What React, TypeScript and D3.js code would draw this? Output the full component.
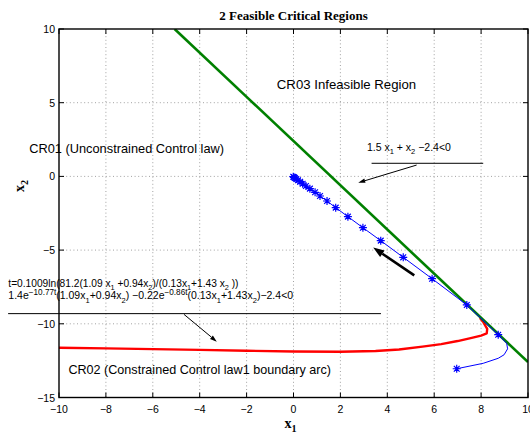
import React, { useEffect, useRef } from "react";
import * as d3 from "d3";

const xTicks = [-10, -8, -6, -4, -2, 0, 2, 4, 6, 8, 10];
const yTicks = [-15, -10, -5, 0, 5, 10];

// infeasible boundary 1.5 x1 + x2 - 2.4 = 0
const boundX = [-5.07, 10];
const boundY = [10, -12.6];

// CR02 boundary arc (red)
const arcX = [-10, -8, -6, -4, -2, 0, 2, 3.5, 4.5, 5.5, 6.3, 7.0, 7.6, 8.0, 8.24, 8.26, 8.1, 7.95];
const arcY = [-11.62, -11.67, -11.72, -11.77, -11.83, -11.88, -11.9, -11.85, -11.74, -11.55, -11.38, -11.17, -10.95, -10.8, -10.65, -10.35, -9.9, -9.6];

// state trajectory (blue line)
const trajX = [6.96, 8.09, 8.73, 8.98, 9.13, 9.09, 8.73, 7.39, 5.91, 4.68, 3.72, 2.96, 2.32, 1.8, 1.43, 1.13, 0.92, 0.7, 0.53, 0.39, 0.28, 0.19, 0.12, 0.06, 0.02, -0.01];
const trajY = [-13.05, -12.68, -12.34, -12.1, -11.7, -11.32, -10.74, -8.72, -6.94, -5.49, -4.36, -3.48, -2.73, -2.12, -1.67, -1.33, -1.08, -0.83, -0.65, -0.5, -0.36, -0.26, -0.18, -0.11, -0.06, -0.02];

// sampled states (stars)
const starX = [6.96, 8.73, 7.39, 5.91, 4.68, 3.72, 2.96, 2.32, 1.8, 1.43, 1.13, 0.92, 0.7, 0.53, 0.39, 0.28, 0.19, 0.12, 0.06, 0.02, -0.01];
const starY = [-13.05, -10.74, -8.72, -6.94, -5.49, -4.36, -3.48, -2.73, -2.12, -1.67, -1.33, -1.08, -0.83, -0.65, -0.5, -0.36, -0.26, -0.18, -0.11, -0.06, -0.02];

type Seg = [string, string];

const cr03Label: Seg[] = [["CR03 Infeasible Region", ""]];
const cr01Label: Seg[] = [["CR01 (Unconstrained Control law)", ""]];
const cr02Label: Seg[] = [["CR02 (Constrained Control law1 boundary arc)", ""]];
const ineqLabel: Seg[] = [["1.5 x", ""], ["1", "sub"], [" + x", ""], ["2", "sub"], [" \u22122.4<0", ""]];
const formula1: Seg[] = [["t=0.1009ln(81.2(1.09 x", ""], ["1", "sub"], [" +0.94x", ""], ["2", "sub"], [")/(0.13x", ""], ["1", "sub"], ["+1.43 x", ""], ["2", "sub"], [" ))", ""]];
const formula2: Seg[] = [["1.4e", ""], ["\u221210.77t", "sup"], ["(1.09x", ""], ["1", "sub"], ["+0.94x", ""], ["2", "sub"], [") \u22120.22e", ""], ["\u22120.86t", "sup"], ["(0.13x", ""], ["1", "sub"], ["+1.43x", ""], ["2", "sub"], [")\u22122.4<0", ""]];

// annotation anchors, in data units: [x, y]
const textAt: [number, number][] = [[-0.71, 5.9], [-11.27, 1.61], [-9.6, -13.4], [3.13, 1.74], [-12.16, -7.48], [-12.16, -8.34]];
const ineqRule = { x: [3.33, 8.09], y: 0.89 };
const ineqArrow = { x: [5.25, 2.76], y: [0.77, -0.43] };
const formRule = { x: [-12.17, 3.73], y: -9.31 };
const formArrow = { x: [-4.67, -3.27], y: [-9.36, -11.21] };
const flowArrow = { x: [5.15, 3.4], y: [-6.71, -4.83] };

const W = 530, H = 446;
const sans = "'Liberation Sans', Arial, Helvetica, sans-serif";
const serif = "'Liberation Serif', 'Times New Roman', serif";

function rich(sel: any, segs: Seg[], size: number) {
  let off = 0;
  segs.forEach(([t, k]) => {
    const target = k === "sub" ? size * 0.32 : k === "sup" ? -size * 0.4 : 0;
    sel.append("tspan")
      .attr("dy", target - off)
      .attr("font-size", k === "sup" ? size * 0.78 : k ? size * 0.72 : size)
      .text(t);
    off = target;
  });
}

function arrow(g: any, x1: number, y1: number, x2: number, y2: number, width: number, headLen: number, headW: number) {
  const a = Math.atan2(y2 - y1, x2 - x1);
  const bx = x2 - headLen * Math.cos(a), by = y2 - headLen * Math.sin(a);
  g.append("line").attr("x1", x1).attr("y1", y1).attr("x2", bx).attr("y2", by)
    .attr("stroke", "#000").attr("stroke-width", width);
  const px = -Math.sin(a) * headW / 2, py = Math.cos(a) * headW / 2;
  g.append("path")
    .attr("d", `M${x2},${y2}L${bx + px},${by + py}L${bx - px},${by - py}Z`)
    .attr("fill", "#000");
}

export default function App() {
  const ref = useRef<SVGSVGElement>(null);

  useEffect(() => {
    const svg = d3.select(ref.current);
    svg.selectAll("*").remove();

    const left = 59, right = 528, top = 29, bottom = 397.5;
    const x = d3.scaleLinear().domain([-10, 10]).range([left, right]);
    const y = d3.scaleLinear().domain([-15, 10]).range([bottom, top]);

    svg.append("rect").attr("width", W).attr("height", H).attr("fill", "#fff");

    // grid
    const grid = svg.append("g").attr("stroke", "#8a8a8a").attr("stroke-width", 0.8).attr("stroke-dasharray", "1,2.6");
    xTicks.slice(1, -1).forEach(t => {
      grid.append("line").attr("x1", x(t)).attr("x2", x(t)).attr("y1", top).attr("y2", bottom);
    });
    yTicks.slice(1, -1).forEach(t => {
      grid.append("line").attr("x1", left).attr("x2", right).attr("y1", y(t)).attr("y2", y(t));
    });

    const clipId = "plotclip";
    svg.append("clipPath").attr("id", clipId).append("rect")
      .attr("x", left).attr("y", top).attr("width", right - left).attr("height", bottom - top);
    const plot = svg.append("g").attr("clip-path", `url(#${clipId})`);

    const line = d3.line<[number, number]>().x(d => x(d[0])).y(d => y(d[1]));

    plot.append("path")
      .attr("d", line(arcX.map((v, i) => [v, arcY[i]]) as [number, number][]))
      .attr("fill", "none").attr("stroke", "#ff0000").attr("stroke-width", 2.4).attr("stroke-linejoin", "round");

    plot.append("path")
      .attr("d", line(boundX.map((v, i) => [v, boundY[i]]) as [number, number][]))
      .attr("fill", "none").attr("stroke", "#008000").attr("stroke-width", 2.6);

    plot.append("path")
      .attr("d", line(trajX.map((v, i) => [v, trajY[i]]) as [number, number][]))
      .attr("fill", "none").attr("stroke", "#0000ff").attr("stroke-width", 1);

    const s = 4, d = s * 0.72;
    const starPath = `M${-s},0L${s},0M0,${-s}L0,${s}M${-d},${-d}L${d},${d}M${-d},${d}L${d},${-d}`;
    plot.selectAll(".star").data(starX.map((v, i) => [v, starY[i]])).join("path")
      .attr("class", "star")
      .attr("transform", (p: number[]) => `translate(${x(p[0])},${y(p[1])})`)
      .attr("d", starPath).attr("stroke", "#0000ff").attr("stroke-width", 1.2).attr("fill", "none");

    // frame + inward ticks
    svg.append("rect").attr("x", left).attr("y", top).attr("width", right - left).attr("height", bottom - top)
      .attr("fill", "none").attr("stroke", "#000").attr("stroke-width", 1.4);
    const tk = svg.append("g").attr("stroke", "#000").attr("stroke-width", 1);
    xTicks.forEach(t => {
      tk.append("line").attr("x1", x(t)).attr("x2", x(t)).attr("y1", bottom).attr("y2", bottom - 5);
      tk.append("line").attr("x1", x(t)).attr("x2", x(t)).attr("y1", top).attr("y2", top + 5);
    });
    yTicks.forEach(t => {
      tk.append("line").attr("x1", left).attr("x2", left + 5).attr("y1", y(t)).attr("y2", y(t));
      tk.append("line").attr("x1", right).attr("x2", right - 5).attr("y1", y(t)).attr("y2", y(t));
    });

    const fmt = (v: number) => (v < 0 ? "\u2212" + Math.abs(v) : String(v));
    svg.selectAll(".xt").data(xTicks).join("text").attr("class", "xt")
      .attr("x", (v: number) => x(v)).attr("y", bottom + 15)
      .attr("text-anchor", "middle").attr("font-family", sans).attr("font-size", 10.5)
      .text((v: number) => fmt(v));
    svg.selectAll(".yt").data(yTicks).join("text").attr("class", "yt")
      .attr("x", left - 4).attr("y", (v: number) => y(v) + 4)
      .attr("text-anchor", "end").attr("font-family", sans).attr("font-size", 10.5)
      .text((v: number) => fmt(v));

    // title and axis labels
    svg.append("text").attr("x", (left + right) / 2).attr("y", 20).attr("text-anchor", "middle")
      .attr("font-family", serif).attr("font-weight", "bold").attr("font-size", 13)
      .text("2 Feasible Critical Regions");
    const xl = svg.append("text").attr("x", (left + right) / 2 - 3).attr("y", 428).attr("text-anchor", "middle")
      .attr("font-family", serif).attr("font-weight", "bold");
    rich(xl, [["x", ""], ["1", "sub"]], 14);
    const yl = svg.append("text").attr("transform", `translate(24,186) rotate(-90)`).attr("text-anchor", "middle")
      .attr("font-family", serif).attr("font-weight", "bold");
    rich(yl, [["x", ""], ["2", "sub"]], 14);

    // annotations
    const labels: [Seg[], number][] = [[cr03Label, 13.2], [cr01Label, 12.8], [cr02Label, 12.6], [ineqLabel, 10.5], [formula1, 10.2], [formula2, 10.5]];
    labels.forEach(([segs, size], i) => {
      const t = svg.append("text").attr("x", x(textAt[i][0])).attr("y", y(textAt[i][1]))
        .attr("font-family", sans).attr("fill", "#000").style("white-space", "pre");
      rich(t, segs, size);
    });

    const ann = svg.append("g");
    ann.append("line").attr("x1", x(ineqRule.x[0])).attr("x2", x(ineqRule.x[1])).attr("y1", y(ineqRule.y)).attr("y2", y(ineqRule.y))
      .attr("stroke", "#000").attr("stroke-width", 1);
    ann.append("line").attr("x1", x(formRule.x[0])).attr("x2", x(formRule.x[1])).attr("y1", y(formRule.y)).attr("y2", y(formRule.y))
      .attr("stroke", "#000").attr("stroke-width", 1);
    arrow(ann, x(ineqArrow.x[0]), y(ineqArrow.y[0]), x(ineqArrow.x[1]), y(ineqArrow.y[1]), 1, 7, 4.5);
    arrow(ann, x(formArrow.x[0]), y(formArrow.y[0]), x(formArrow.x[1]), y(formArrow.y[1]), 1, 7, 4.5);
    arrow(ann, x(flowArrow.x[0]), y(flowArrow.y[0]), x(flowArrow.x[1]), y(flowArrow.y[1]), 2.6, 11, 8);
  }, []);

  return (
    <svg ref={ref} width={W} height={H} style={{ position: "absolute", left: 0, top: 0, display: "block" }} />
  );
}
